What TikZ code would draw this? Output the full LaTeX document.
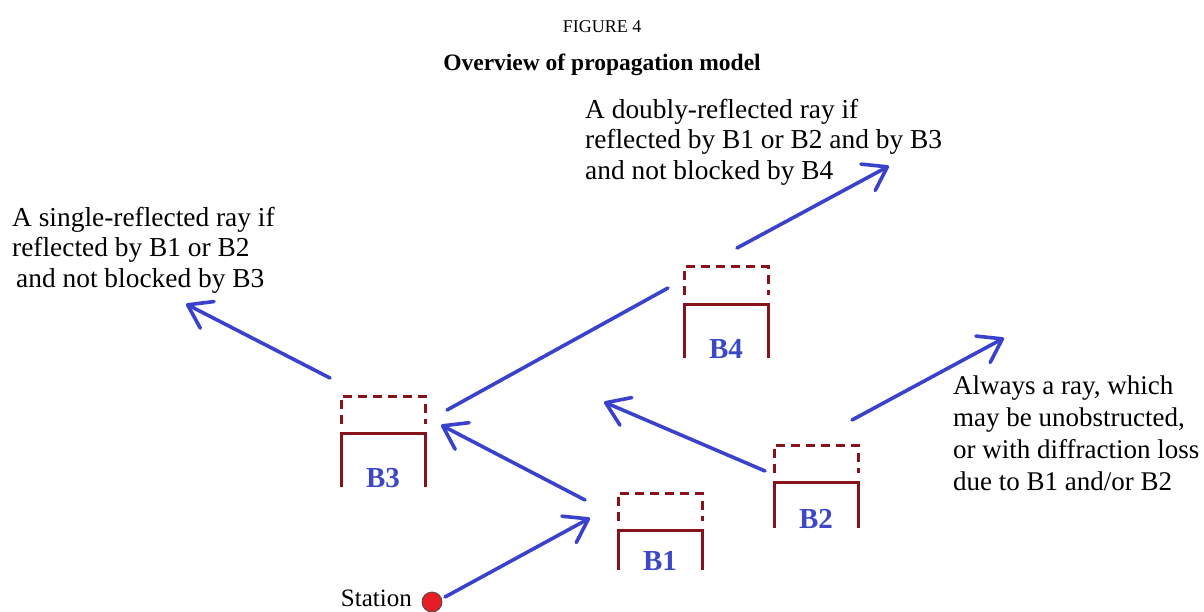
\documentclass[tikz,border=0pt]{standalone}
\usepackage{fontspec}
\setmainfont{Liberation Serif}
\usetikzlibrary{arrows.meta}

\definecolor{raycol}{RGB}{58,66,204}
\definecolor{wallcol}{RGB}{135,18,28}
\definecolor{labcol}{RGB}{60,72,200}
\definecolor{stncol}{RGB}{232,28,36}

\tikzset{
  ray/.style={draw=raycol, line width=3.6pt, line cap=round},
  rayhead/.style={ray, -{Straight Barb[length=22pt,width=30pt,line width=3.6pt,round]}},
  roof/.style={draw=wallcol, line width=3pt, dash pattern=on 9pt off 6pt},
  wall/.style={draw=wallcol, line width=3pt},
  blabel/.style={text=labcol, font=\fontsize{29}{32}\selectfont\bfseries, anchor=base, inner sep=0pt},
  note/.style={font=\fontsize{27.4}{30.5}\selectfont, align=left, anchor=north west, inner sep=0pt},
}

% one building: name, left x, top of roof y, bottom of walls y, label
\newcommand\building[5]{%
  \draw[roof] (#2,#3+28) |- (#2+84,#3) -- (#2+84,#3+28);
  \draw[wall] (#2,#4) |- (#2+84,#3+37) -- (#2+84,#4);
  \node[blabel] (#1) at (#2+42,#4) {#5};
}

\begin{document}
\begin{tikzpicture}[x=1pt,y=-1pt]
  \useasboundingbox (0,0) rectangle (1204,612);

  % caption
  \node[font=\fontsize{18}{20}\selectfont] (fig) at (602,27) {FIGURE 4};
  \node[font=\fontsize{23.5}{26}\selectfont\bfseries] (title) at (602,65) {Overview of propagation model};

  % buildings
  \building{b3}{341}{396}{487}{B3}
  \building{b1}{618}{493}{570}{B1}
  \building{b4}{684}{267}{358}{B4}
  \building{b2}{774}{445}{528}{B2}

  % station
  \node[circle, draw=black!70, fill=stncol, minimum size=20pt, inner sep=0pt, line width=0.8pt] (stn) at (432,602) {};
  \node[font=\fontsize{25}{28}\selectfont, anchor=base east, inner sep=0pt] (stnlab) at (412,606) {Station};

  % ray end points
  \coordinate (s0) at (445,597);
  \coordinate (s1) at (590,518);
  \coordinate (r1a) at (585,500);
  \coordinate (r1b) at (441,425);
  \coordinate (r3a) at (447,410);
  \coordinate (r3b) at (668,288);
  \coordinate (r4a) at (737,248);
  \coordinate (r4b) at (889,166);
  \coordinate (r5a) at (330,378);
  \coordinate (r5b) at (186,304);
  \coordinate (r6a) at (765,471);
  \coordinate (r6b) at (604,402);
  \coordinate (r7a) at (852,420);
  \coordinate (r7b) at (1004,338);

  % rays
  \draw[rayhead] (s0) -- (s1);
  \draw[rayhead] (r1a) -- (r1b);
  \draw[ray] (r3a) -- (r3b);
  \draw[rayhead] (r4a) -- (r4b);
  \draw[rayhead] (r5a) -- (r5b);
  \draw[rayhead] (r6a) -- (r6b);
  \draw[rayhead] (r7a) -- (r7b);

  % annotations
  \node[note] (n1) at (12,207) {A single-reflected ray if\\reflected by B1 or B2\\\hspace*{4pt}and not blocked by B3};
  \node[note] (n2) at (585,99) {A doubly-reflected ray if\\reflected by B1 or B2 and by B3\\and not blocked by B4};
  \node[note, font=\fontsize{27}{32}\selectfont] (n3) at (953,376) {Always a ray, which\\may be unobstructed,\\or with diffraction loss\\due to B1 and/or B2};
\end{tikzpicture}
\end{document}
